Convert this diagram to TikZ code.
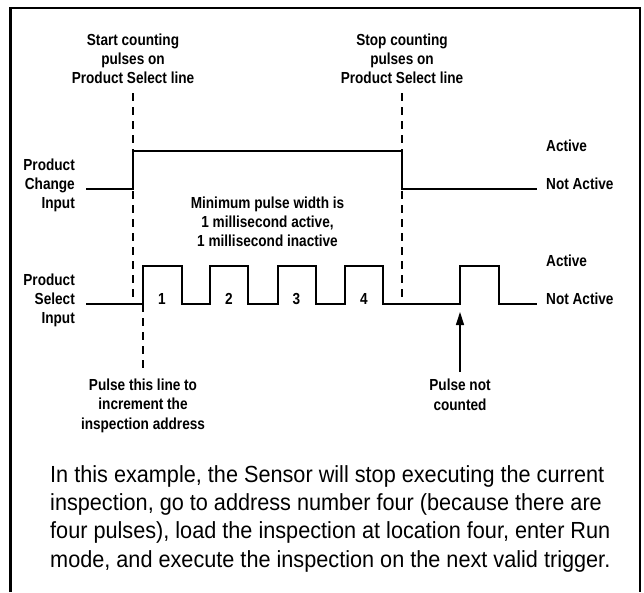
\documentclass[tikz,border=0pt]{standalone}
\usepackage{fontspec}
\newfontfamily\bodyfont{Liberation Sans}[FakeStretch=0.93]
\newfontfamily\labfont{Liberation Sans}[FakeStretch=0.85]
\usetikzlibrary{arrows.meta}
\tikzset{
  lab/.style={font=\labfont\bfseries\fontsize{16}{19.2}\selectfont, inner sep=0pt, align=center, anchor=base},
  labr/.style={lab, align=right, anchor=base east},
  labl/.style={lab, align=left, anchor=base west},
  wave/.style={line width=1.4pt, line join=miter},
  guide/.style={line width=1.3pt, dash pattern=on 8pt off 6pt},
  frame/.style={line width=2.7pt},
  body/.style={font=\bodyfont\fontsize{23.3}{28.3}\selectfont, inner sep=0pt, align=left, anchor=base west},
  pointer/.style={line width=1.3pt, -{Triangle[length=13pt,width=8pt]}}
}
\begin{document}
\begin{tikzpicture}[x=1pt,y=-1pt]
\useasboundingbox (0,0) rectangle (644,592);
% frame (bottom edge cut off)
\draw[frame] (10.7,592) -- (10.7,8) -- (640,8) -- (640,592);

% top labels (positioned at the baseline of their last line)
\node[lab] (start) at (133,83.4) {Start counting\\pulses on\\Product Select line};
\node[lab] (stop) at (402,83.4) {Stop counting\\pulses on\\Product Select line};

% guide coordinates
\coordinate (g1top) at (133,93);
\coordinate (g1bot) at (133,304);
\coordinate (g2top) at (143,304);
\coordinate (g2bot) at (143,372);
\coordinate (g3top) at (402,93);
\coordinate (g3bot) at (402,304);
\draw[guide] (g1top) -- (g1bot);
\draw[guide] (g2top) -- (g2bot);
\draw[guide] (g3top) -- (g3bot);

% Product Change waveform
\node[labr] (pc) at (75,208.5) {Product\\Change\\Input};
\draw[wave] (86,189) -- (133,189) -- (133,151) -- (402,151) -- (402,189) -- (537,189);
\node[labl] (act1) at (546,151) {Active};
\node[labl] (nact1) at (546,189) {Not Active};

\node[lab] (minw) at (267.5,246.5) {Minimum pulse width is\\1 millisecond active,\\1 millisecond inactive};

% Product Select waveform
\node[labr] (ps) at (75,323.5) {Product\\Select\\Input};
\draw[wave] (86,304) -- (143,304) -- (143,266) -- (182,266) -- (182,304)
  -- (210,304) -- (210,266) -- (248,266) -- (248,304)
  -- (278,304) -- (278,266) -- (316,266) -- (316,304)
  -- (345,304) -- (345,266) -- (383,266) -- (383,304)
  -- (460,304) -- (460,266) -- (499,266) -- (499,304) -- (537,304);
\node[labl] (act2) at (546,266) {Active};
\node[labl] (nact2) at (546,304) {Not Active};
\node[lab] (n1) at (162,304) {1};
\node[lab] (n2) at (229,304) {2};
\node[lab] (n3) at (296.5,304) {3};
\node[lab] (n4) at (364,304) {4};

% bottom labels
\node[lab] (pulse) at (143,429) {Pulse this line to\\increment the\\inspection address};
\node[lab] (notc) at (460,410) {Pulse not\\counted};
\coordinate (arrbot) at (460,372);
\coordinate (arrtip) at (460,312);
\draw[pointer] (arrbot) -- (arrtip);

% explanation
\node[body] (expl) at (50,567) {In this example, the Sensor will stop executing the current\\inspection, go to address number four (because there are\\four pulses), load the inspection at location four, enter Run\\mode, and execute the inspection on the next valid trigger.};
\end{tikzpicture}
\end{document}
